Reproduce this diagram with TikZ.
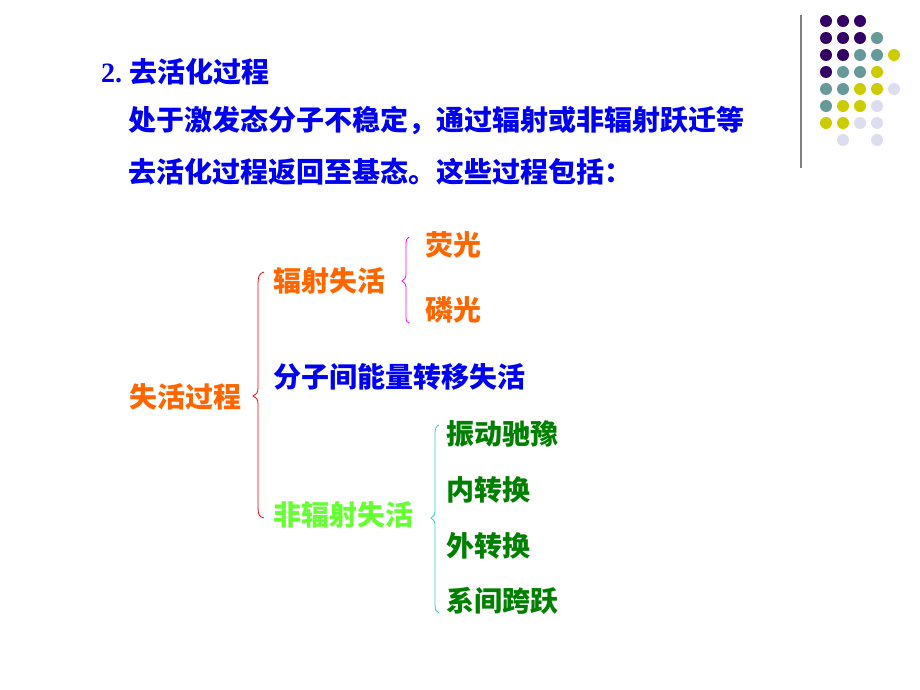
\documentclass[tikz,border=0pt]{standalone}
\usepackage{fontspec}
\setmainfont{Liberation Serif}
\newfontfamily\cjk{Noto Sans CJK SC}
\definecolor{tblue}{RGB}{0,0,240}
\definecolor{torange}{RGB}{255,102,0}
\definecolor{tgreen}{RGB}{0,128,0}
\definecolor{tlgreen}{RGB}{102,255,51}
\definecolor{bmag}{RGB}{255,0,255}
\definecolor{bcyan}{RGB}{51,204,204}
\definecolor{dpurple}{RGB}{51,0,102}
\definecolor{dteal}{RGB}{102,153,153}
\definecolor{dyellow}{RGB}{204,204,0}
\definecolor{dlav}{RGB}{221,221,240}
\begin{document}
\begin{tikzpicture}[x=1pt,y=-1pt,
  lbl/.style={anchor=base west,inner sep=0pt,font=\cjk\bfseries\fontsize{28}{28}\selectfont},
  brace/.style={line width=0.8pt}]
\useasboundingbox (0,0) rectangle (920,690);
\fill[white] (0,0) rectangle (920,690);
% decoration
\draw[gray,line width=2pt] (801,15) -- (801,168);
\foreach \c/\x/\y in {dpurple/826/21,dpurple/843/21,dpurple/860/21,
  dpurple/826/38,dpurple/843/38,dpurple/860/38,dteal/877/38,
  dpurple/826/55,dpurple/843/55,dteal/860/55,dteal/877/55,dyellow/894/55,
  dpurple/826/72,dteal/843/72,dteal/860/72,dyellow/877/72,
  dteal/826/89,dteal/843/89,dyellow/860/89,dyellow/877/89,dlav/894/89,
  dteal/826/106,dyellow/843/106,dyellow/860/106,dlav/877/106,
  dyellow/826/123,dyellow/843/123,dlav/860/123,dlav/877/123,
  dlav/843/140,dlav/877/140}
  \fill[\c] (\x,\y) circle (6);
% header text
\node[lbl,text=tblue] (title) at (101,83) {{\rmfamily\bfseries 2.\ }去活化过程};
\node[lbl,text=tblue] (l1) at (128,130) {处于激发态分子不稳定，通过辐射或非辐射跃迁等};
\node[lbl,text=tblue] (l2) at (128,182) {去活化过程返回至基态。这些过程包括：};
% tree
\node[lbl,text=torange] (root) at (129,407) {失活过程};
\node[lbl,text=torange] (rad) at (273,291) {辐射失活};
\node[lbl,text=tblue] (trans) at (273,387) {分子间能量转移失活};
\node[lbl,text=tlgreen] (nrad) at (273,525) {非辐射失活};
\node[lbl,text=torange] (fl) at (425,255) {荧光};
\node[lbl,text=torange] (ph) at (425,320) {磷光};
\node[lbl,text=tgreen] (vr) at (446,444) {振动驰豫};
\node[lbl,text=tgreen] (ic) at (446,500) {内转换};
\node[lbl,text=tgreen] (ec) at (446,556) {外转换};
\node[lbl,text=tgreen] (isc) at (446,611) {系间跨跃};
% braces
\draw[brace,red] (264,272) .. controls (259,273) and (258,277) .. (258,284)
  -- (258,388) .. controls (258,393) and (256,395) .. (253,396)
  .. controls (256,397) and (258,399) .. (258,404)
  -- (258,507) .. controls (258,514) and (259,517) .. (264,518);
\draw[brace,bmag] (409,237) .. controls (407,238) and (406,240) .. (406,244)
  -- (406,275) .. controls (406,278) and (404,280) .. (402,281)
  .. controls (404,282) and (406,284) .. (406,287)
  -- (406,317) .. controls (406,321) and (407,323) .. (409,323);
\draw[brace,bcyan] (439,425) .. controls (436,426) and (435,429) .. (435,434)
  -- (435,511) .. controls (435,515) and (433,517) .. (431,518)
  .. controls (433,519) and (435,521) .. (435,525)
  -- (435,604) .. controls (435,610) and (436,612) .. (439,613);
\end{tikzpicture}
\end{document}
